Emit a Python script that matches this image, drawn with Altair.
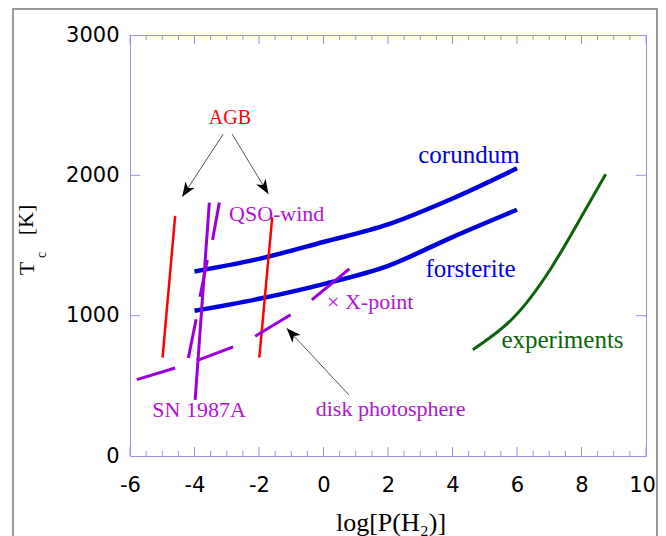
import math
import altair as alt
import pandas as pd

# ---------------- data ----------------
x_major = [-6, -4, -2, 0, 2, 4, 6, 8, 10]
x_minor = [v / 2 for v in range(-11, 20) if v % 4 != 0]
y_major = [0, 1000, 2000, 3000]
y_inner = [1000, 2000]

corundum_x = [-4, -2, 0, 2, 4, 6]
corundum_y = [1315, 1405, 1525, 1650, 1835, 2050]

forsterite_x = [-4, -2, 0, 2, 4, 6]
forsterite_y = [1035, 1120, 1225, 1355, 1560, 1755]

experiments_x = [4.63, 5.88, 7.06, 8.0, 8.75]
experiments_y = [758, 983, 1340, 1706, 2008]

# AGB (red) segments: (x0, y0, x1, y1)
agb_segments = [(-4.99, 701, -4.60, 1711), (-1.99, 701, -1.59, 1701)]

# SN 1987A (purple, solid)
sn_segments = [(-3.98, 400, -3.54, 1806)]

# QSO-wind (purple, dashed pieces)
qso_segments = [(-4.19, 698, -3.95, 974), (-3.83, 1135, -3.60, 1397),
                (-3.44, 1540, -3.23, 1806)]

# disk photosphere / X-point (purple, dashed pieces)
disk_segments = [(-5.79, 544, -4.60, 627), (-3.93, 679, -2.80, 777),
                 (-2.12, 853, -1.02, 1007), (-0.36, 1112, 0.80, 1333)]

# arrows: tail (x, y) -> tip (x2, y2)
arrow_x = [-3.11, -2.83, 0.79]
arrow_y = [2293, 2293, 435]
arrow_x2 = [-4.38, -1.71, -1.14]
arrow_y2 = [1848, 1867, 910]

# labels
lab_c_text = ["AGB", "corundum", "forsterite", "experiments", "SN 1987A", "disk photosphere"]
lab_c_x = [-2.90, 4.51, 4.56, 7.41, -3.86, 2.08]
lab_c_y = [2364, 2086, 1278, 770, 276, 287]
lab_l_text = ["QSO-wind", "\u00d7 X-point"]
lab_l_x = [-2.93, 0.11]
lab_l_y = [1677, 1046]

# ---------------- styling ----------------
W, H = 516, 421
AX = "#9494ee"
RED = "#ff0000"
BLUE = "#0000dd"
GREEN = "#0b640b"
PURPLE = "#9900dd"
PTEXT = "#b014d2"
SERIF = "Liberation Serif"

xs = alt.Scale(domain=[-6, 10], nice=False, zero=False)
ys = alt.Scale(domain=[0, 3000], nice=False, zero=False)
xaxis = alt.Axis(values=x_major, labelExpr="'' + datum.value", domain=False, ticks=False,
                 tickSize=0, grid=False, labelFont="DejaVu Sans", labelFontSize=21,
                 labelColor="black", labelPadding=18, labelFlush=False, title="",
                 labelOffset={"condition": {"test": "datum.value == 10", "value": -4},
                              "value": 0})
yaxis = alt.Axis(values=y_major, labelExpr="'' + datum.value", domain=False, ticks=False,
                 tickSize=0, grid=False, labelFont="DejaVu Sans", labelFontSize=21,
                 labelColor="black", labelPadding=11, labelFlush=False, title="")


def X(f="x"):
    return alt.X(f"{f}:Q", scale=xs, axis=xaxis)


def Y(f="y"):
    return alt.Y(f"{f}:Q", scale=ys, axis=yaxis)


def curve(xv, yv, color, width, interp="monotone"):
    df = pd.DataFrame({"x": xv, "y": yv})
    return alt.Chart(df).mark_line(color=color, strokeWidth=width, interpolate=interp).encode(
        x=X(), y=Y())


def segs(seglist, color, width):
    rows = []
    for i, (x0, y0, x1, y1) in enumerate(seglist):
        rows.append({"x": x0, "y": y0, "seg": i, "o": 0})
        rows.append({"x": x1, "y": y1, "seg": i, "o": 1})
    df = pd.DataFrame(rows)
    return alt.Chart(df).mark_line(color=color, strokeWidth=width).encode(
        x=X(), y=Y(), detail="seg:N", order="o:Q")


# frame around the figure
frame = alt.Chart(pd.DataFrame({"a": [0]})).mark_rect(
    fillOpacity=0, stroke="#9a9a9a", strokeWidth=2).encode(
    x=alt.value(-117), x2=alt.value(527), y=alt.value(-26), y2=alt.value(540))

# ticks (inward)
dmaj = pd.DataFrame({"x": x_major})
dmin = pd.DataFrame({"x": x_minor})
dy = pd.DataFrame({"y": y_inner})
ticks = [
    alt.Chart(dmaj).mark_rule(color=AX, strokeWidth=1).encode(x=X(), y=alt.value(H), y2=alt.value(H - 9)),
    alt.Chart(dmaj).mark_rule(color=AX, strokeWidth=1).encode(x=X(), y=alt.value(0), y2=alt.value(9)),
    alt.Chart(dmin).mark_rule(color=AX, strokeWidth=1).encode(x=X(), y=alt.value(H), y2=alt.value(H - 5)),
    alt.Chart(dmin).mark_rule(color=AX, strokeWidth=1).encode(x=X(), y=alt.value(0), y2=alt.value(5)),
    alt.Chart(dy).mark_rule(color=AX, strokeWidth=1).encode(y=Y(), x=alt.value(0), x2=alt.value(10)),
    alt.Chart(dy).mark_rule(color=AX, strokeWidth=1).encode(y=Y(), x=alt.value(W), x2=alt.value(W - 10)),
]

# arrows
pxx, pxy = W / 16.0, H / 3000.0
angles = []
for a, b, c, d in zip(arrow_x, arrow_y, arrow_x2, arrow_y2):
    dx = (c - a) * pxx
    dys = -(d - b) * pxy
    angles.append(math.degrees(math.atan2(dx, -dys)) % 360)
adf = pd.DataFrame({"x": arrow_x, "y": arrow_y, "x2": arrow_x2, "y2": arrow_y2, "ang": angles})
shafts = alt.Chart(adf).mark_rule(color="#555555", strokeWidth=1).encode(
    x=X(), y=Y(), x2="x2:Q", y2="y2:Q")
heads = alt.Chart(adf).mark_point(shape="M0,0L0.7,1.8L0,1.3L-0.7,1.8Z", filled=True,
                                  color="black", opacity=1, size=256).encode(
    x=X("x2"), y=Y("y2"), angle=alt.Angle("ang:Q", scale=None))

# labels
cdf = pd.DataFrame({"t": lab_c_text, "x": lab_c_x, "y": lab_c_y,
                    "c": [RED, BLUE, BLUE, GREEN, PTEXT, PTEXT],
                    "s": [20, 25, 25, 25, 22, 22]})
ldf = pd.DataFrame({"t": lab_l_text, "x": lab_l_x, "y": lab_l_y,
                    "c": [PTEXT, PTEXT], "s": [22, 22]})
labels_c = alt.Chart(cdf).mark_text(font=SERIF, align="center", baseline="alphabetic").encode(
    x=X(), y=Y(), text="t:N", color=alt.Color("c:N", scale=None), size=alt.Size("s:Q", scale=None))
labels_l = alt.Chart(ldf).mark_text(font=SERIF, align="left", baseline="alphabetic").encode(
    x=X(), y=Y(), text="t:N", color=alt.Color("c:N", scale=None), size=alt.Size("s:Q", scale=None))

# axis titles
one = pd.DataFrame({"a": [0]})
t_T = alt.Chart(one).mark_text(text="T", font=SERIF, fontSize=22, angle=270, align="center",
                               baseline="alphabetic", color="black").encode(
    x=alt.value(-96.5), y=alt.value(233.5))
t_c = alt.Chart(one).mark_text(text="c", font=SERIF, fontSize=14, angle=270, align="center",
                               baseline="alphabetic", color="black").encode(
    x=alt.value(-84), y=alt.value(220))
t_K = alt.Chart(one).mark_text(text="[K]", font=SERIF, fontSize=22, angle=270, align="center",
                               baseline="alphabetic", color="black").encode(
    x=alt.value(-97), y=alt.value(185))
t_x = alt.Chart(one).mark_text(text="log[P(H\u2082)]", font=SERIF, fontSize=26, align="center",
                               baseline="alphabetic", color="black").encode(
    x=alt.value(261), y=alt.value(496))

chart = alt.layer(
    frame, *ticks,
    curve(corundum_x, corundum_y, BLUE, 4.5),
    curve(forsterite_x, forsterite_y, BLUE, 4.5),
    curve(experiments_x, experiments_y, GREEN, 3, "natural"),
    segs(agb_segments, RED, 2.5),
    segs(sn_segments, PURPLE, 3),
    segs(qso_segments, PURPLE, 3),
    segs(disk_segments, PURPLE, 3),
    shafts, heads, labels_c, labels_l, t_T, t_c, t_K, t_x,
).properties(
    width=W, height=H,
    autosize=alt.AutoSizeParams(type="none"),
    padding={"left": 122, "top": 27, "right": 12, "bottom": 80},
).configure_view(stroke=AX, strokeWidth=1)

chart.save("out.html", embed_options={"renderer": "svg", "actions": False})
